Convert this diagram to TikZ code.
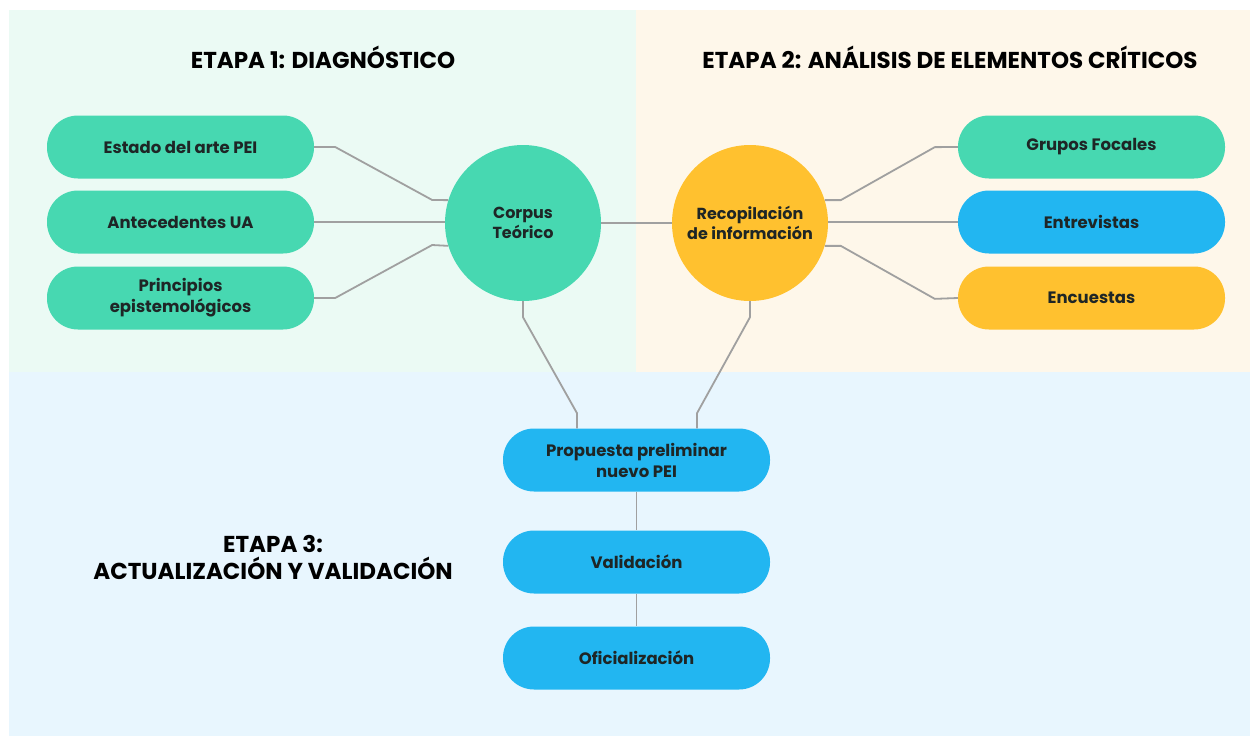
\documentclass[tikz,border=0pt]{standalone}
\usepackage{fontspec}
\setmainfont{Poppins}

\definecolor{bg-green}{HTML}{EBFAF4}
\definecolor{bg-cream}{HTML}{FEF7EA}
\definecolor{bg-blue}{HTML}{E8F6FE}
\definecolor{c-green}{HTML}{47D8B1}
\definecolor{c-blue}{HTML}{22B6F1}
\definecolor{c-yellow}{HTML}{FFC12F}
\definecolor{c-line}{HTML}{A0A0A0}
\definecolor{c-text}{HTML}{1E2626}

\begin{document}
\begin{tikzpicture}[
 x=1pt, y=-1pt,
 align=center,
 inner sep=0pt,
 text=c-text,
 font=\bfseries\fontsize{16.5}{21}\selectfont,
 pill/.style={rectangle,rounded corners=31pt,minimum width=267pt,minimum height=63pt},
 hub/.style={circle,minimum size=156pt,font=\bfseries\fontsize{16}{20}\selectfont},
 stage/.style={font=\bfseries\fontsize{23}{27}\selectfont,text=black},
 link/.style={draw=c-line,line width=1.8pt,line join=round}
]
\useasboundingbox (0,0) rectangle (1250,736);
\fill[white] (0,0) rectangle (1250,736);
\fill[bg-green] (9,10) rectangle (636,372);
\fill[bg-cream] (636,10) rectangle (1250,372);
\fill[bg-blue] (9,372) rectangle (1250,736);

% titles
\node (title-1) [stage] at (323,57) {ETAPA 1: DIAGNÓSTICO};
\node (title-2) [stage] at (950,57) {ETAPA 2: ANÁLISIS DE ELEMENTOS CRÍTICOS};
\node (title-3) [stage] at (273,557) {ETAPA 3:\\ACTUALIZACIÓN Y VALIDACIÓN};

% hubs
\node (corpus) [hub,fill=c-green] at (523,223) {Corpus\\Teórico};
\node (recopilacion) [hub,fill=c-yellow] at (750,223) {Recopilación\\de información};

% stage 1
\node (estado) [pill,fill=c-green] at (180.5,147) {Estado del arte PEI};
\node (antecedentes) [pill,fill=c-green] at (180.5,222) {Antecedentes UA};
\node (principios) [pill,fill=c-green] at (180.5,298) {Principios\\epistemológicos};

% stage 2
\node (grupos) [pill,fill=c-green] at (1091.5,147) {Grupos Focales};
\node (entrevistas) [pill,fill=c-blue] at (1091.5,222) {Entrevistas};
\node (encuestas) [pill,fill=c-yellow] at (1091.5,298) {Encuestas};

% stage 3
\node (propuesta) [pill,fill=c-blue] at (636.5,460) {Propuesta preliminar\\nuevo PEI};
\node (validacion) [pill,fill=c-blue] at (636.5,562) {Validación};
\node (oficializacion) [pill,fill=c-blue] at (636.5,658) {Oficialización};

% connectors
\draw[link] (estado.east) -- ++(21,0) -- ++(97,53) -- (corpus.163);
\draw[link] (antecedentes.east) -- (corpus.west |- antecedentes.east);
\draw[link] (principios.east) -- ++(21,0) -- ++(97,-53) -- (corpus.197);
\draw[link] (corpus.east) -- (recopilacion.west);
\draw[link] (recopilacion.17) -- ++(16,0) -- ++(94,-53) -- (grupos.west);
\draw[link] (recopilacion.east |- entrevistas.west) -- (entrevistas.west);
\draw[link] (recopilacion.-17) -- ++(16,0) -- ++(94,53) -- (encuestas.west);
\draw[link] (corpus.south) -- ++(0,16) -- ++(54,96) coordinate (k1) -- (k1 |- propuesta.north);
\draw[link] (recopilacion.south) -- ++(0,16) -- ++(-53,96) coordinate (k2) -- (k2 |- propuesta.north);
\draw[link] (propuesta.south) -- (validacion.north);
\draw[link] (validacion.south) -- (oficializacion.north);
\end{tikzpicture}
\end{document}
